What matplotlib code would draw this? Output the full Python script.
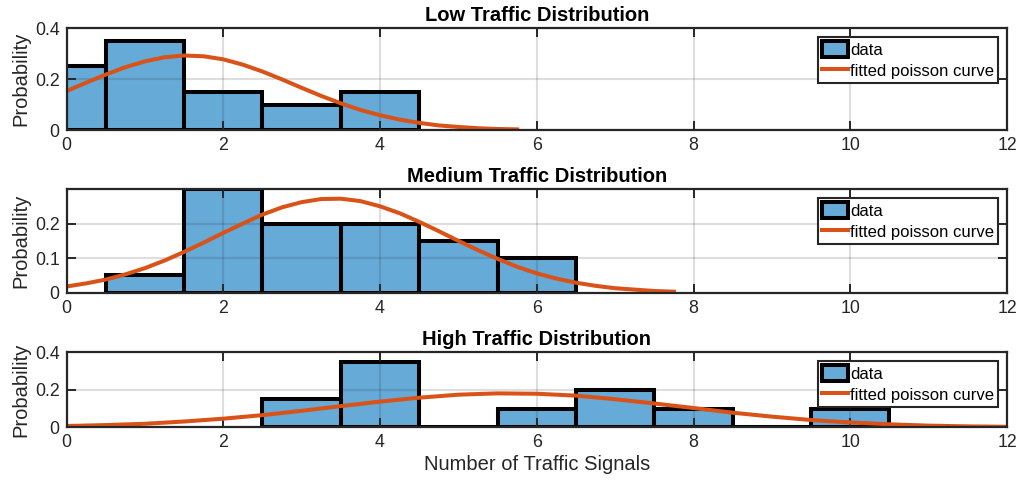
import numpy as np
import matplotlib
matplotlib.use('Agg')
import matplotlib.pyplot as plt

plt.rcParams['font.family'] = ['Liberation Sans', 'DejaVu Sans']

# histogram bin centres (width 1) and probabilities
low_bins = [0, 1, 2, 3, 4]
low_prob = [0.25, 0.35, 0.15, 0.10, 0.15]
med_bins = [1, 2, 3, 4, 5, 6]
med_prob = [0.05, 0.30, 0.20, 0.20, 0.15, 0.10]
high_bins = [3, 4, 5, 6, 7, 8, 9, 10]
high_prob = [0.15, 0.35, 0.0, 0.10, 0.20, 0.10, 0.0, 0.10]

# fitted curve samples
low_fit_x = np.arange(0, 5.76, 0.25)
low_fit_y = [0.153, 0.186, 0.218, 0.247, 0.270, 0.286, 0.293, 0.290, 0.278, 0.257,
             0.230, 0.199, 0.166, 0.134, 0.105, 0.079, 0.058, 0.041, 0.028, 0.018,
             0.012, 0.007, 0.004, 0.0025]
med_fit_x = np.arange(0, 7.76, 0.25)
med_fit_y = [0.018, 0.027, 0.038, 0.053, 0.071, 0.093, 0.118, 0.145, 0.173, 0.200,
             0.226, 0.247, 0.262, 0.271, 0.272, 0.265, 0.250, 0.230, 0.205, 0.178,
             0.150, 0.123, 0.098, 0.075, 0.056, 0.041, 0.029, 0.020, 0.013, 0.009,
             0.005, 0.003]
high_fit_x = np.arange(0, 12.01, 0.5)
high_fit_y = [0.007, 0.012, 0.019, 0.031, 0.046, 0.065, 0.088, 0.113, 0.137, 0.158,
              0.174, 0.181, 0.179, 0.169, 0.150, 0.127, 0.103, 0.078, 0.057, 0.039,
              0.026, 0.016, 0.009, 0.005, 0.003]

titles = ['Low Traffic Distribution', 'Medium Traffic Distribution', 'High Traffic Distribution']
x_ticks = [0, 2, 4, 6, 8, 10, 12]

bar_color = '#66AAD7'
fit_color = '#D95319'
axis_color = '#262626'

fig = plt.figure(figsize=(10.2, 4.84), dpi=100)

# axes rectangles [left, bottom, width, height]
rects = [[0.0652, 0.7314, 0.9221, 0.2101],
         [0.0652, 0.3952, 0.9221, 0.2143],
         [0.0652, 0.1171, 0.9221, 0.1550]]

panels = [(low_bins, low_prob, low_fit_x, low_fit_y, 0.4, [0, 0.2, 0.4]),
          (med_bins, med_prob, med_fit_x, med_fit_y, 0.3, [0, 0.1, 0.2]),
          (high_bins, high_prob, high_fit_x, high_fit_y, 0.4, [0, 0.2, 0.4])]

for i, (bins, prob, fx, fy, ytop, yticks) in enumerate(panels):
    ax = fig.add_axes(rects[i])
    bars = ax.bar(bins, prob, width=1.0, color=bar_color, edgecolor='black',
                  linewidth=2.9, label='data', zorder=2)
    line, = ax.plot(fx, fy, color=fit_color, linewidth=2.9,
                    label='fitted poisson curve', zorder=3)

    ax.set_xlim(0, 12)
    ax.set_ylim(0, ytop)
    ax.set_xticks(x_ticks)
    ax.set_yticks(yticks)
    ax.set_yticklabels([('%g' % v) for v in yticks])
    ax.set_axisbelow(False)
    ax.grid(True, color=axis_color, alpha=0.15, linewidth=1.5)
    ax.tick_params(direction='in', top=True, right=True, length=6.5, width=1.4,
                   colors=axis_color, labelsize=12.8, pad=5)
    for s in ax.spines.values():
        s.set_color(axis_color)
        s.set_linewidth(1.6)
        s.set_zorder(4)

    ax.set_title(titles[i], fontsize=14.5, fontweight='bold', pad=5)
    ax.set_ylabel('Probability', fontsize=14.5, color=axis_color, labelpad=3)
    if i == 2:
        ax.set_xlabel('Number of Traffic Signals', fontsize=14.5, color=axis_color, labelpad=3)

    leg = ax.legend([bars, line], ['data', 'fitted poisson curve'], loc='upper right',
                    fontsize=12, frameon=True, fancybox=False,
                    borderaxespad=0.55, borderpad=0.22, handlelength=1.6,
                    handleheight=1.1, handletextpad=0.12, labelspacing=0.28)
    leg.get_frame().set_edgecolor(axis_color)
    leg.get_frame().set_linewidth(1.5)
    leg.get_frame().set_alpha(1.0)

fig.savefig('out.png', dpi=100)
